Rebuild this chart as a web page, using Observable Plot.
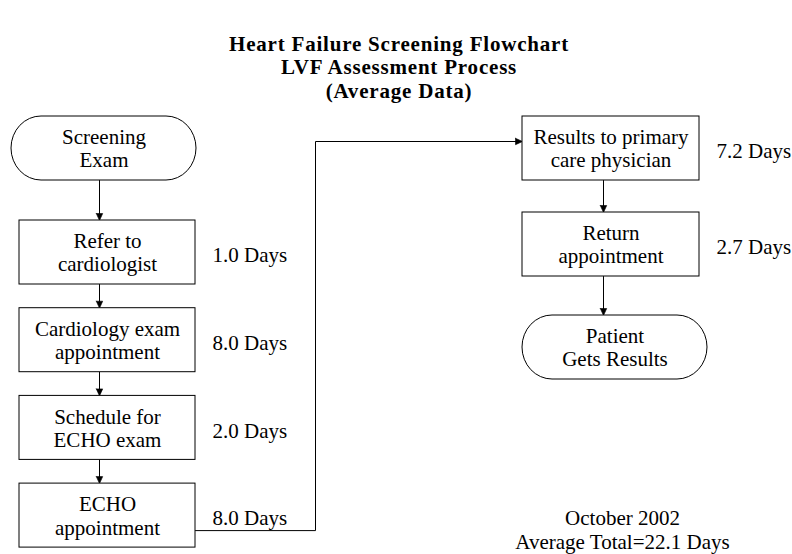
<!DOCTYPE html>
<html>
<head>
<meta charset="utf-8">
<script src="https://cdn.jsdelivr.net/npm/d3@7"></script>
<script src="https://cdn.jsdelivr.net/npm/@observablehq/plot@0.6"></script>
<style>
  html, body { margin: 0; padding: 0; background: #fff; }
  #title {
    width: 792px; height: 104px; box-sizing: border-box;
    padding-top: 33px; padding-left: 6px;
    font-family: "Liberation Serif", "Times New Roman", serif;
    font-weight: bold; font-size: 21px; line-height: 23.4px;
    letter-spacing: 0.8px;
    text-align: center; color: #000;
  }
  #chart svg { display: block; }
</style>
</head>
<body>
<div id="title"></div>
<div id="chart"></div>
<script>
// ---------- data ----------
const titleLines = ["Heart Failure Screening Flowchart", "LVF Assessment Process", "(Average Data)"];
const leftSteps = ["Screening\nExam", "Refer to\ncardiologist", "Cardiology exam\nappointment", "Schedule for\nECHO exam", "ECHO\nappointment"];
const leftKinds = ["terminal", "process", "process", "process", "process"];
const leftDays = [null, 1.0, 8.0, 2.0, 8.0];
const rightSteps = ["Results to primary\ncare physician", "Return\nappointment", "Patient\nGets Results"];
const rightKinds = ["process", "process", "terminal"];
const rightDays = [7.2, 2.7, null];
const dayUnit = "Days";
const noteLines = ["October 2002", "Average Total=22.1 Days"];

// ---------- layout (page pixel units) ----------
const W = 792, H = 554, titleH = 104;
const boxH = 64;
const columns = {
  left:  {x1: 19, x2: 195, t1: 11, t2: 196, top: 116, gaps: [104, 87.7, 87.7, 87.7], arrowX: 99},
  right: {x1: 522, x2: 699, t1: 522, t2: 707, top: 116, gaps: [96, 103], arrowX: 603}
};
const connectorX = 315;

function buildColumn(name, steps, kinds, days) {
  const c = columns[name];
  let top = c.top;
  return steps.map((label, i) => {
    if (i > 0) top += c.gaps[i - 1];
    const term = kinds[i] === "terminal";
    const x1 = term ? c.t1 : c.x1, x2 = term ? c.t2 : c.x2;
    return {col: name, i, label, kind: kinds[i], days: days[i],
            x1, x2, y1: top, y2: top + boxH, cx: (x1 + x2) / 2, cy: top + boxH / 2,
            boxRight: c.x2, arrowX: c.arrowX};
  });
}
const leftNodes = buildColumn("left", leftSteps, leftKinds, leftDays);
const rightNodes = buildColumn("right", rightSteps, rightKinds, rightDays);
const nodes = [...leftNodes, ...rightNodes];

// arrows between successive nodes in a column
const head = 7, half = 3.2;
const segs = [];   // polylines
const heads = [];  // triangles
let sid = 0;
function addDown(x, yA, yB) {
  const id = "s" + (sid++);
  segs.push({id, x, y: yA}, {id, x, y: yB - head + 1});
  heads.push({id, x: x - half, y: yB - head}, {id, x: x + half, y: yB - head}, {id, x, y: yB}, {id, x: x - half, y: yB - head});
}
for (const col of [leftNodes, rightNodes]) {
  for (let i = 0; i < col.length - 1; i++) addDown(col[i].arrowX, col[i].y2, col[i + 1].y1);
}
// connector from last left step to first right step
{
  const a = leftNodes[leftNodes.length - 1], b = rightNodes[0];
  const ya = a.cy + 15, yb = b.cy - 7;
  const id = "conn";
  segs.push({id, x: a.x2, y: ya}, {id, x: connectorX, y: ya}, {id, x: connectorX, y: yb}, {id, x: b.x1 - head + 1, y: yb});
  heads.push({id, x: b.x1 - head, y: yb - half}, {id, x: b.x1 - head, y: yb + half}, {id, x: b.x1, y: yb}, {id, x: b.x1 - head, y: yb - half});
}

const dayLabels = nodes.filter(d => d.days != null).map(d => ({x: d.boxRight + 17, y: d.cy + 3, text: `${d.days.toFixed(1)} ${dayUnit}`}));
const note = [{x: 622, y: 528.5, text: noteLines.join("\n")}];

document.getElementById("title").innerHTML = titleLines.map(t => `<div>${t}</div>`).join("");

const font = "'Liberation Serif', 'Times New Roman', serif";
const chart = Plot.plot({
  width: W, height: H - titleH,
  margin: 0,
  x: {domain: [0, W], range: [0, W], axis: null},
  y: {domain: [titleH, H], range: [0, H - titleH], axis: null},
  style: {fontFamily: font, fontSize: "21px", background: "#fff", color: "#000"},
  marks: [
    Plot.line(segs, {x: "x", y: "y", z: "id", stroke: "#000", strokeWidth: 1}),
    Plot.line(heads, {x: "x", y: "y", z: "id", fill: "#000", stroke: "#000", strokeWidth: 0.6}),
    Plot.rect(nodes.filter(d => d.kind === "process"), {x1: "x1", x2: "x2", y1: "y1", y2: "y2", fill: "#fff", stroke: "#000", strokeWidth: 1}),
    Plot.rect(nodes.filter(d => d.kind === "terminal"), {x1: "x1", x2: "x2", y1: "y1", y2: "y2", rx: 30, ry: 32, fill: "#fff", stroke: "#000", strokeWidth: 1}),
    Plot.text(nodes, {x: "cx", y: "cy", text: "label", fontSize: 21, lineHeight: 1.1, fill: "#000", fontFamily: font}),
    Plot.text(dayLabels, {x: "x", y: "y", text: "text", textAnchor: "start", fontSize: 21, fill: "#000", fontFamily: font}),
    Plot.text(note, {x: "x", y: "y", text: "text", fontSize: 21, lineHeight: 1.17, fill: "#000", fontFamily: font})
  ]
});
document.getElementById("chart").appendChild(chart);
</script>
</body>
</html>
